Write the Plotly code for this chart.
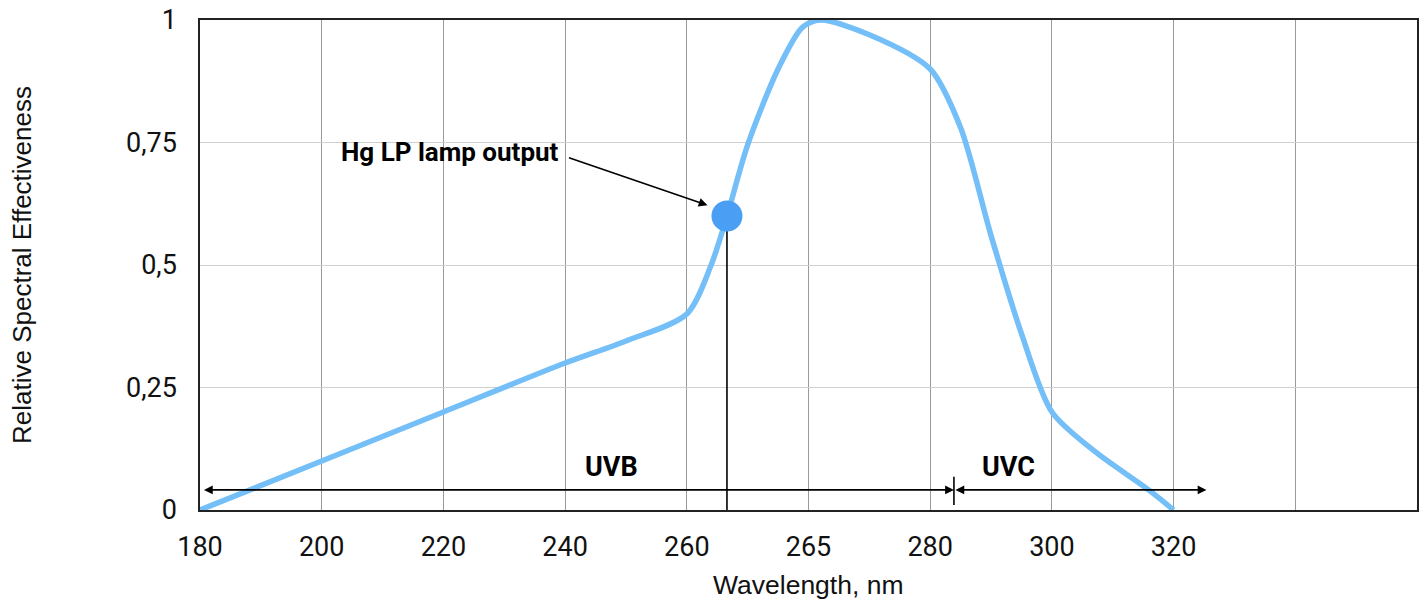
import plotly.graph_objects as go

# Category positions (evenly spaced on the chart) and their labels
tick_pos = [0, 1, 2, 3, 4, 5, 6, 7, 8, 9, 10]
tick_labels = ["180", "200", "220", "240", "260", "265", "280", "300", "320", "", ""]

y_ticks = [0, 0.25, 0.5, 0.75, 1]
y_tick_labels = ["0", "0,25", "0,5", "0,75", "1"]

# Relative spectral effectiveness curve (x in category-position units)
curve_x = [0, 1, 2, 3, 3.5, 4, 4.2, 4.33, 4.5, 4.75, 4.95, 5.1, 5.5, 6, 6.25, 6.5, 6.75, 7, 7.35, 7.8, 8]
curve_y = [0, 0.1, 0.2, 0.3, 0.345, 0.40, 0.50, 0.60, 0.745, 0.90, 0.985, 1.0, 0.97, 0.9, 0.78, 0.56, 0.36, 0.2, 0.12, 0.04, 0]

# Hg LP lamp output point
lamp_x = [4.33]
lamp_y = [0.6]

# UVB / UVC ranges (in position units) and label placement
uv_level = 0.041
uvb_range = [0.02, 6.195]
uvc_range = [6.195, 8.27]
uv_labels = ["UVB", "UVC"]
uv_label_x = [3.38, 6.64]
uv_label_y = 0.088

tick_font = "Roboto, 'Open Sans', sans-serif"
title_font = "'Liberation Sans', Arial, Helvetica, sans-serif"

fig = go.Figure()

fig.add_trace(go.Scatter(
    x=curve_x, y=curve_y, mode="lines",
    line=dict(color="#74BFF8", width=5.5, shape="spline", smoothing=0.8),
    hoverinfo="skip", showlegend=False,
))

# vertical drop line from the lamp point
fig.add_trace(go.Scatter(
    x=[lamp_x[0], lamp_x[0]], y=[0, lamp_y[0]], mode="lines",
    line=dict(color="#000000", width=1.6),
    hoverinfo="skip", showlegend=False,
))

fig.add_trace(go.Scatter(
    x=lamp_x, y=lamp_y, mode="markers",
    marker=dict(color="#4A9FF5", size=31, line=dict(width=0)),
    hoverinfo="skip", showlegend=False,
))

annotations = []

# Hg LP lamp output arrow
annotations.append(dict(
    x=4.17, y=0.622, xref="x", yref="y",
    ax=-140, ay=-48, axref="pixel", ayref="pixel",
    text="", showarrow=True, arrowhead=2, arrowsize=1.1, arrowwidth=1.6,
    arrowcolor="#000000",
))
annotations.append(dict(
    x=2.97, y=0.73, xref="x", yref="y", xanchor="right", yanchor="middle",
    text="<b>Hg LP lamp output</b>", showarrow=False,
    font=dict(family=tick_font, size=26, color="#000000"),
))

# UVB and UVC double arrows
for rng in (uvb_range, uvc_range):
    annotations.append(dict(
        x=rng[1], y=uv_level, ax=rng[0], ay=uv_level,
        xref="x", yref="y", axref="x", ayref="y",
        text="", showarrow=True, arrowhead=2, startarrowhead=2,
        arrowside="end+start", arrowsize=1.1, startarrowsize=1.1,
        arrowwidth=1.6, arrowcolor="#000000",
    ))

for lbl, lx in zip(uv_labels, uv_label_x):
    annotations.append(dict(
        x=lx, y=uv_label_y, xref="x", yref="y",
        xanchor="center", yanchor="middle",
        text=f"<b>{lbl}</b>", showarrow=False,
        font=dict(family=tick_font, size=27, color="#000000"),
    ))

# axis titles
annotations.append(dict(
    x=0.5, y=-0.153, xref="paper", yref="paper",
    xanchor="center", yanchor="middle",
    text="Wavelength, nm", showarrow=False,
    font=dict(family=title_font, size=26.5, color="#111111"),
))
annotations.append(dict(
    x=-0.1463, y=0.5, xref="paper", yref="paper", textangle=-90,
    xanchor="center", yanchor="middle",
    text="Relative Spectral Effectiveness", showarrow=False,
    font=dict(family=title_font, size=26, color="#111111"),
))

shapes = [
    dict(type="line", xref="x", yref="y",
         x0=uvb_range[1], x1=uvb_range[1], y0=0.01, y1=0.068,
         line=dict(color="#000000", width=1.6)),
]

fig.update_layout(
    width=1426, height=603,
    margin=dict(l=200, r=9, t=20, b=93, autoexpand=False),
    paper_bgcolor="white", plot_bgcolor="white",
    annotations=annotations, shapes=shapes,
    font=dict(family=tick_font, size=20, color="#111111"),
)

fig.update_xaxes(
    range=[0, 10], tickmode="array", tickvals=tick_pos, ticktext=tick_labels,
    showgrid=True, gridcolor="#9a9a9a", gridwidth=1,
    showline=True, linecolor="#222222", linewidth=1.5, mirror=True,
    zeroline=False, ticks="", ticklabelstandoff=12, ticklabeloverflow="allow",
    tickfont=dict(family=tick_font, size=27, color="#111111"),
    automargin=False, fixedrange=True,
)
fig.update_yaxes(
    range=[0, 1], tickmode="array", tickvals=y_ticks, ticktext=y_tick_labels,
    showgrid=True, gridcolor="#cfcfcf", gridwidth=1,
    showline=True, linecolor="#222222", linewidth=1.5, mirror=True,
    zeroline=False, ticks="", ticklabelstandoff=16, ticklabeloverflow="allow",
    tickfont=dict(family=tick_font, size=27, color="#111111"),
    automargin=False, fixedrange=True,
)

fig.write_html(
    "out.html",
    config={"displayModeBar": False},
    post_script="document.body.style.margin='0';document.body.style.overflow='hidden';",
)
